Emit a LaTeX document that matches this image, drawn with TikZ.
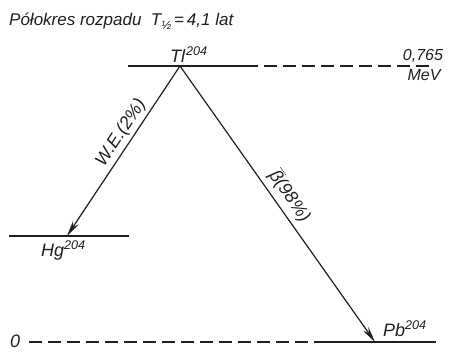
\documentclass[tikz,border=0pt]{standalone}
\usepackage{fontspec}
\setmainfont{Liberation Sans}
\usetikzlibrary{arrows.meta}
\begin{document}
\begin{tikzpicture}[x=1pt,y=-1pt,
  ink/.style={color=black!88},
  level/.style={ink,line width=1.9pt},
  dashlevel/.style={ink,line width=1.2pt,dash pattern=on 13pt off 6pt},
  decay/.style={ink,line width=1.2pt,-{Stealth[length=16pt,width=6.5pt]}},
  lbl/.style={ink,font=\itshape\fontsize{18}{20}\selectfont,inner sep=0pt},
  ttl/.style={ink,font=\itshape\fontsize{17}{19}\selectfont,inner sep=0pt},
  small/.style={ink,font=\itshape\fontsize{16}{18}\selectfont,inner sep=0pt}]
\useasboundingbox (0,0) rectangle (450,351);
% coordinates
\coordinate (tl) at (180,66);
\coordinate (tlL) at (128,66);
\coordinate (tlR) at (245,66);
\coordinate (tlE) at (432,66);
\coordinate (hg) at (67,236);
\coordinate (hgL) at (9,236);
\coordinate (hgR) at (129,236);
\coordinate (pb) at (375,342);
\coordinate (pbL) at (320,342);
\coordinate (pbR) at (436,342);
\coordinate (zeroE) at (29,342);
% title
\node[ttl,anchor=base west] (title) at (9,25)
  {Półokres rozpadu\ \ T\raisebox{-0.55ex}{\fontsize{12}{13}\selectfont ½}\,=\,4,1 lat};
% levels
\draw[level] (tlL) -- (tlR);
\draw[dashlevel] (tlR) -- (tlE);
\draw[level] (hgL) -- (hgR);
\draw[dashlevel] (zeroE) -- (pbL);
\draw[level] (pbL) -- (pbR);
% labels
\node[lbl,anchor=base west] (tlname) at (170,62) {Tl\kern1pt\textsuperscript{204}};
\node[small,anchor=base] (energy) at (423,60) {0,765};
\node[small,anchor=base] (mev) at (424,80) {MeV};
\node[lbl,anchor=base west] (hgname) at (41,256) {Hg\textsuperscript{204}};
\node[lbl,anchor=base west] (pbname) at (383,336) {Pb\textsuperscript{204}};
\node[lbl,anchor=base west] (zero) at (10,347) {0};
% decays
\draw[decay] (tl) -- (hg);
\draw[decay] (tl) -- (pb);
\node[lbl,rotate=56.8] (we) at (121,133) {W.E.(2\%)};
\node[lbl,rotate=-54.8] (beta) at (290,196) {$\overline{\hbox{β}}$(98\%)};
\end{tikzpicture}
\end{document}
